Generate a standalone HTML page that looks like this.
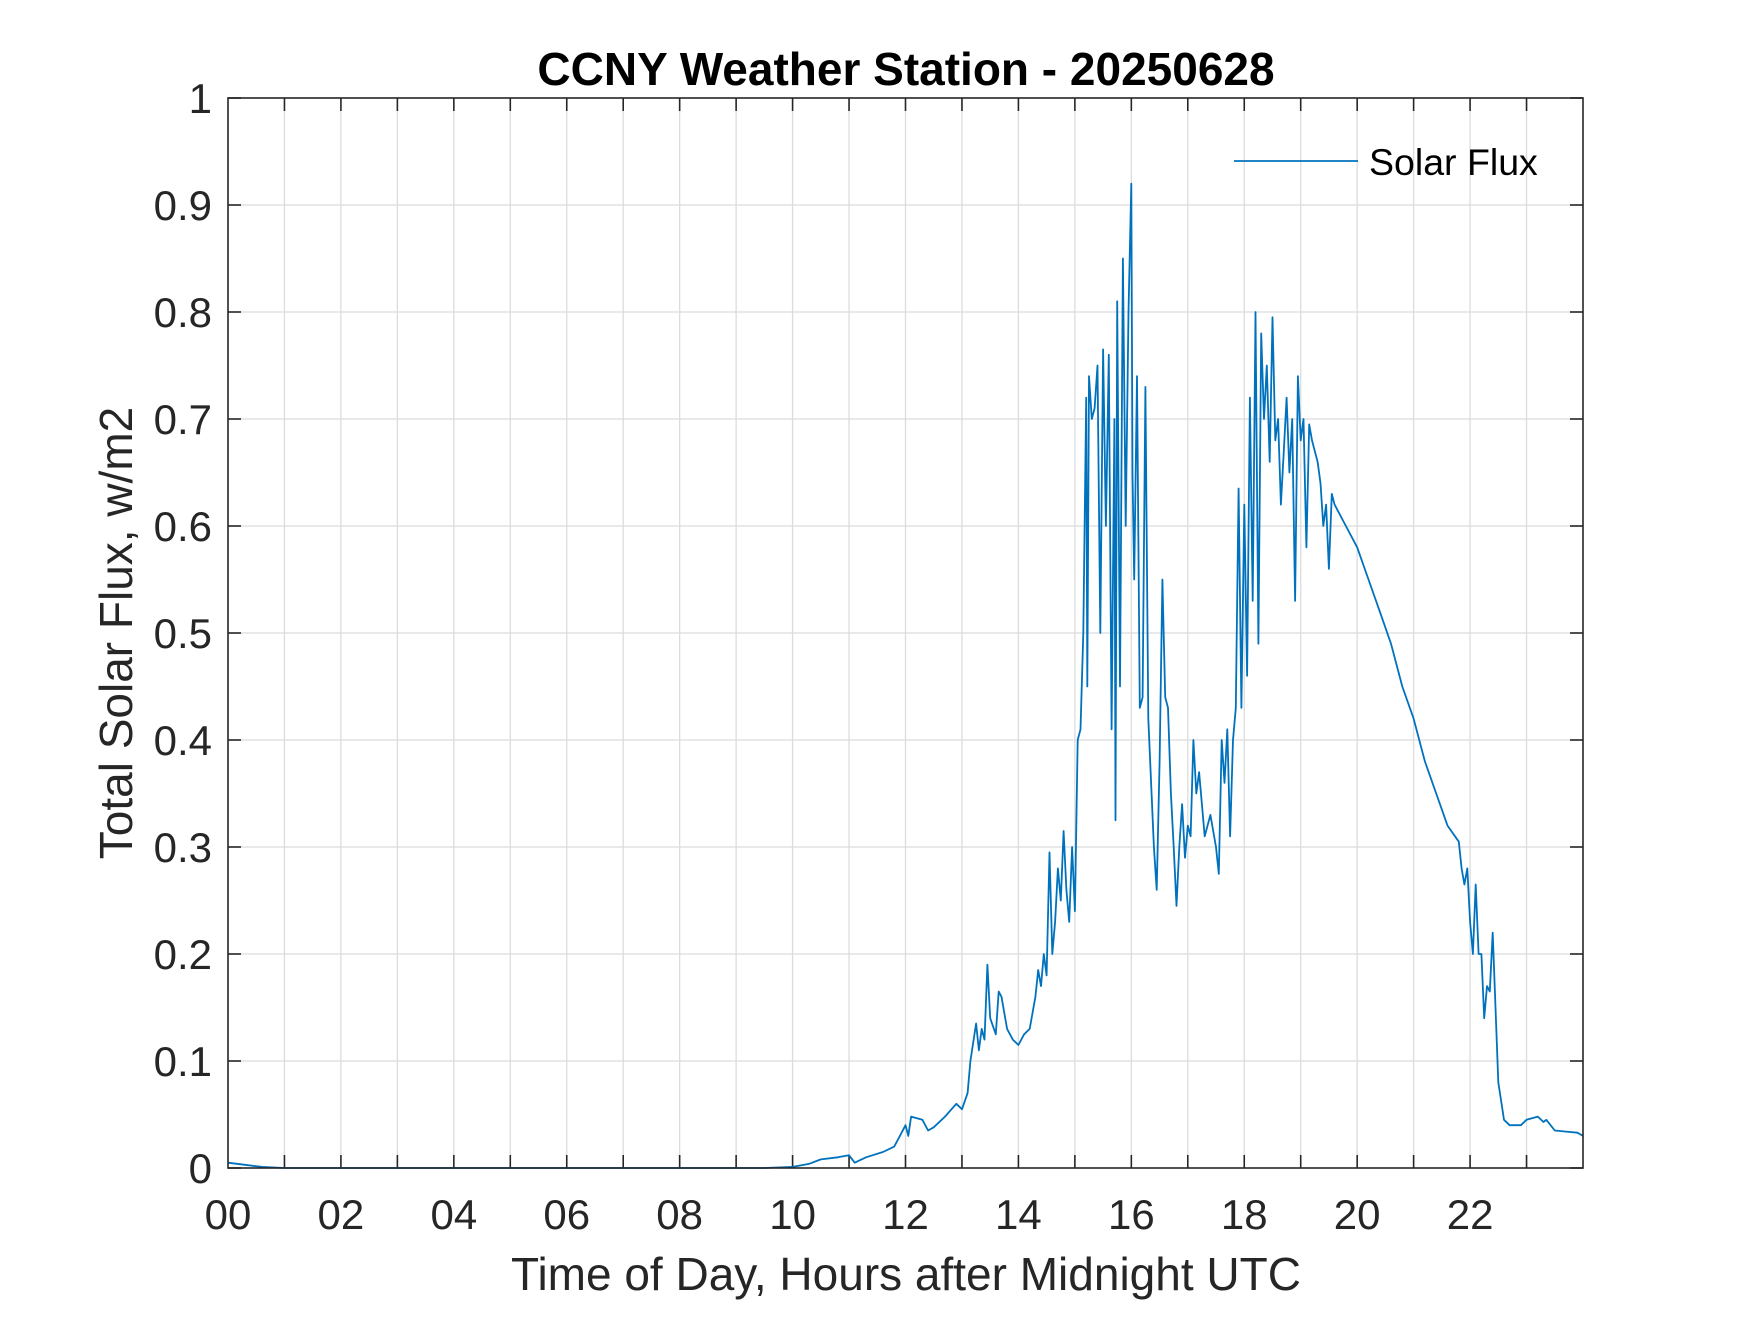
<!DOCTYPE html>
<html><head><meta charset="utf-8"><style>
html,body{margin:0;padding:0;background:#fff;}
svg text{font-family:"Liberation Sans",Arial,sans-serif;fill:#262626;}
</style></head><body>
<svg id="chart" width="1750" height="1313" viewBox="0 0 1750 1313" xmlns="http://www.w3.org/2000/svg">
<rect x="0" y="0" width="1750" height="1313" fill="#fff"/>
<g id="grid"></g>
<g id="ticks"></g>
<path id="series" fill="none" stroke="#0072BD" stroke-width="1.8" stroke-linejoin="round"/>
<rect x="228" y="98" width="1355" height="1070" fill="none" stroke="#262626" stroke-width="1.6"/>
<g id="xlabels"></g>
<g id="ylabels"></g>
<text x="906" y="85" text-anchor="middle" font-size="46" font-weight="bold" style="fill:#000">CCNY Weather Station - 20250628</text>
<text x="906" y="1290" text-anchor="middle" font-size="46">Time of Day, Hours after Midnight UTC</text>
<text transform="translate(132,633) rotate(-90)" text-anchor="middle" font-size="46">Total Solar Flux, w/m2</text>
<g>
<line x1="1234" y1="161" x2="1358" y2="161" stroke="#0072BD" stroke-width="1.8"/>
<text x="1369" y="175" font-size="37.5" style="fill:#000">Solar Flux</text>
</g>
</svg>
<script>
const xTickHours=[0,2,4,6,8,10,12,14,16,18,20,22];
const xTickLabels=["00","02","04","06","08","10","12","14","16","18","20","22"];
const yTickValues=[0,0.1,0.2,0.3,0.4,0.5,0.6,0.7,0.8,0.9,1];
const yTickLabels=["0","0.1","0.2","0.3","0.4","0.5","0.6","0.7","0.8","0.9","1"];
const hours=[0,0.3,0.6,1,3,6,9.5,10,10.3,10.5,10.8,11,11.1,11.3,11.6,11.8,11.9,12,12.05,12.1,12.3,12.4,12.5,12.7,12.9,13,13.1,13.15,13.25,13.3,13.35,13.4,13.45,13.5,13.6,13.65,13.7,13.8,13.9,14,14.1,14.2,14.3,14.35,14.4,14.45,14.5,14.55,14.6,14.65,14.7,14.75,14.8,14.85,14.9,14.95,15,15.05,15.1,15.15,15.2,15.22,15.25,15.3,15.35,15.4,15.45,15.5,15.55,15.6,15.65,15.7,15.72,15.75,15.8,15.85,15.9,15.95,16,16.02,16.05,16.1,16.15,16.2,16.25,16.3,16.4,16.45,16.5,16.55,16.6,16.65,16.7,16.75,16.8,16.85,16.9,16.95,17,17.05,17.1,17.15,17.2,17.3,17.4,17.5,17.55,17.6,17.65,17.7,17.75,17.8,17.85,17.9,17.95,18,18.05,18.1,18.15,18.2,18.25,18.3,18.35,18.4,18.45,18.5,18.55,18.6,18.65,18.7,18.75,18.8,18.85,18.9,18.95,19,19.05,19.1,19.15,19.2,19.3,19.35,19.4,19.45,19.5,19.55,19.6,19.8,20,20.2,20.4,20.6,20.8,21,21.2,21.4,21.6,21.8,21.85,21.9,21.95,22,22.05,22.1,22.15,22.2,22.25,22.3,22.35,22.4,22.45,22.5,22.6,22.7,22.9,23,23.2,23.3,23.35,23.5,23.7,23.9,24];
const flux=[0.005,0.003,0.001,0,0,0,0,0.001,0.004,0.008,0.01,0.012,0.005,0.01,0.015,0.02,0.03,0.04,0.03,0.048,0.045,0.035,0.038,0.048,0.06,0.055,0.07,0.1,0.135,0.11,0.13,0.12,0.19,0.14,0.125,0.165,0.16,0.13,0.12,0.115,0.125,0.13,0.16,0.185,0.17,0.2,0.18,0.295,0.2,0.23,0.28,0.25,0.315,0.26,0.23,0.3,0.24,0.4,0.41,0.5,0.72,0.45,0.74,0.7,0.71,0.75,0.5,0.765,0.6,0.76,0.41,0.7,0.325,0.81,0.45,0.85,0.6,0.8,0.92,0.65,0.55,0.74,0.43,0.44,0.73,0.42,0.3,0.26,0.38,0.55,0.44,0.43,0.35,0.3,0.245,0.3,0.34,0.29,0.32,0.31,0.4,0.35,0.37,0.31,0.33,0.3,0.275,0.4,0.36,0.41,0.31,0.4,0.43,0.635,0.43,0.62,0.46,0.72,0.53,0.8,0.49,0.78,0.7,0.75,0.66,0.795,0.68,0.7,0.62,0.67,0.72,0.65,0.7,0.53,0.74,0.68,0.7,0.58,0.695,0.68,0.66,0.64,0.6,0.62,0.56,0.63,0.62,0.6,0.58,0.55,0.52,0.49,0.45,0.42,0.38,0.35,0.32,0.305,0.28,0.265,0.28,0.23,0.2,0.265,0.2,0.2,0.14,0.17,0.165,0.22,0.15,0.08,0.045,0.04,0.04,0.045,0.048,0.043,0.045,0.035,0.034,0.033,0.03];
const L=228,R=1583,T=98,B=1168;
const xs=h=>L+(h/24)*(R-L);
const ys=v=>B-v*(B-T);
const NS="http://www.w3.org/2000/svg";
const grid=document.getElementById('grid'),ticks=document.getElementById('ticks');
function ln(g,x1,y1,x2,y2,c,w){const l=document.createElementNS(NS,'line');l.setAttribute('x1',x1);l.setAttribute('y1',y1);l.setAttribute('x2',x2);l.setAttribute('y2',y2);l.setAttribute('stroke',c);l.setAttribute('stroke-width',w);g.appendChild(l);return l;}
for(let h=1;h<24;h++){
  const l=ln(grid,xs(h),T,xs(h),B,'#dcdcdc',1.3);
  
  
}
yTickValues.forEach(v=>{
  if(v>0&&v<1){const l=ln(grid,L,ys(v),R,ys(v),'#dcdcdc',1.3);
  
  }
  [[L,L+13],[R,R-13]].forEach(p=>{const t=ln(ticks,p[0],ys(v),p[1],ys(v),'#262626',1.6);
  
  });
});
for(let h=1;h<24;h++){
  [[B,B-13],[T,T+13]].forEach(p=>{const t=ln(ticks,xs(h),p[0],xs(h),p[1],'#262626',1.6);
  
  });
}
const xl=document.getElementById('xlabels');
xTickHours.forEach((h,i)=>{const t=document.createElementNS(NS,'text');t.setAttribute('x',xs(h));t.setAttribute('y',1229);t.setAttribute('text-anchor','middle');t.setAttribute('font-size','42');t.textContent=xTickLabels[i];
  
  
  xl.appendChild(t);});
const yl=document.getElementById('ylabels');
yTickValues.forEach((v,i)=>{const t=document.createElementNS(NS,'text');t.setAttribute('x',212);t.setAttribute('y',ys(v)+15);t.setAttribute('text-anchor','end');t.setAttribute('font-size','42');t.textContent=yTickLabels[i];
  
  
  yl.appendChild(t);});
let d='';hours.forEach((h,i)=>{d+=(i?'L':'M')+xs(h).toFixed(1)+','+ys(flux[i]).toFixed(1);});
document.getElementById('series').setAttribute('d',d);
</script>
</body></html>
